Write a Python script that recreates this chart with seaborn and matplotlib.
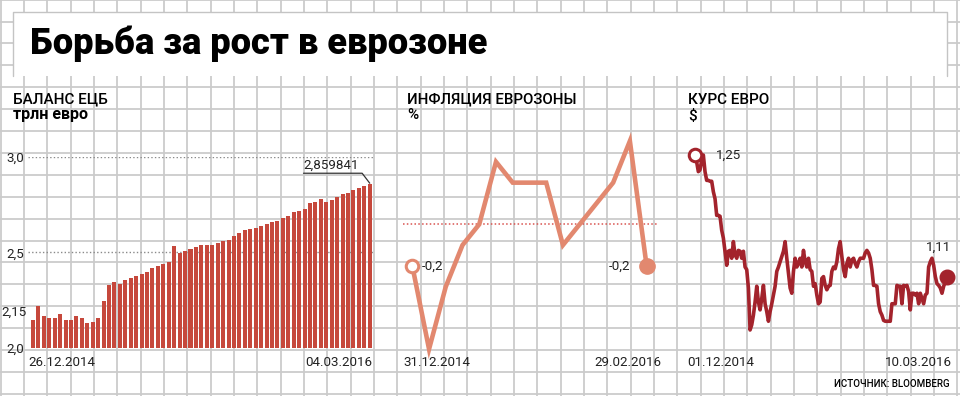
import numpy as np
import pandas as pd
import matplotlib
matplotlib.use("Agg")
import matplotlib.pyplot as plt
import seaborn as sns
from matplotlib import font_manager as fm
from matplotlib.patches import Rectangle

# ---------------- data ----------------
title = "Борьба за рост в еврозоне"
source = "ИСТОЧНИК: BLOOMBERG"

ecb_title = ["БАЛАНС ЕЦБ", "трлн евро"]
ecb_dates = ["26.12.2014", "04.03.2016"]
ecb_ticks = [2.0, 2.5, 3.0]
ecb_tick_labels = ["2,0", "2,5", "3,0"]
ecb_first_label = "2,15"
ecb_balance = [2.148, 2.218, 2.166, 2.157, 2.157, 2.178, 2.148, 2.148, 2.166, 2.157,
               2.131, 2.138, 2.157, 2.246, 2.328, 2.347, 2.337, 2.358, 2.368, 2.379,
               2.389, 2.398, 2.419, 2.428, 2.438, 2.449, 2.536, 2.497, 2.508, 2.518,
               2.530, 2.537, 2.537, 2.537, 2.549, 2.559, 2.568, 2.584, 2.603, 2.617,
               2.622, 2.629, 2.640, 2.650, 2.661, 2.666, 2.682, 2.691, 2.710, 2.717,
               2.729, 2.759, 2.767, 2.778, 2.766, 2.776, 2.792, 2.808, 2.809, 2.825,
               2.836, 2.848, 2.859841]

infl_title = ["ИНФЛЯЦИЯ ЕВРОЗОНЫ", "%"]
infl_dates = ["31.12.2014", "29.02.2016"]
inflation = [-0.2, -0.6, -0.3, -0.1, 0.0, 0.3, 0.2, 0.2, 0.2, -0.1, 0.0, 0.1, 0.2, 0.4, -0.2]

eur_title = ["КУРС ЕВРО", "$"]
eur_dates = ["01.12.2014", "10.03.2016"]
eur_usd = [1.250, 1.242, 1.231, 1.233, 1.244, 1.250, 1.231, 1.221, 1.221, 1.220,
           1.220, 1.208, 1.200, 1.181, 1.181, 1.180, 1.164, 1.155, 1.140, 1.124,
           1.140, 1.141, 1.132, 1.151, 1.136, 1.132, 1.141, 1.140, 1.132, 1.140,
           1.122, 1.119, 1.098, 1.050, 1.056, 1.067, 1.082, 1.100, 1.082, 1.073,
           1.086, 1.101, 1.080, 1.071, 1.060, 1.071, 1.080, 1.090, 1.100, 1.117,
           1.122, 1.128, 1.134, 1.140, 1.151, 1.132, 1.115, 1.098, 1.092, 1.117,
           1.132, 1.122, 1.126, 1.132, 1.122, 1.141, 1.128, 1.122, 1.132, 1.119,
           1.117, 1.100, 1.103, 1.090, 1.080, 1.082, 1.109, 1.111, 1.101, 1.096,
           1.100, 1.101, 1.117, 1.122, 1.120, 1.128, 1.143, 1.151, 1.134, 1.119,
           1.111, 1.126, 1.132, 1.122, 1.130, 1.132, 1.126, 1.122, 1.128, 1.132,
           1.132, 1.132, 1.138, 1.141, 1.138, 1.132, 1.119, 1.101, 1.101, 1.100,
           1.080, 1.071, 1.067, 1.061, 1.060, 1.060, 1.060, 1.060, 1.080, 1.080,
           1.080, 1.101, 1.100, 1.100, 1.080, 1.101, 1.100, 1.101, 1.094, 1.073,
           1.092, 1.092, 1.090, 1.092, 1.080, 1.092, 1.086, 1.080, 1.090, 1.092,
           1.122, 1.128, 1.132, 1.124, 1.111, 1.103, 1.101, 1.098, 1.092, 1.100,
           1.105, 1.111]

# ---------------- style ----------------
sns.set_theme(style="white")
fonts = fm.fontManager.ttflist
names = {f.name for f in fonts}
COND = "Liberation Sans Narrow" if "Liberation Sans Narrow" in names else "Roboto"
roboto_w = {int(f.weight) if str(f.weight).isdigit() else 400 for f in fonts if f.name == "Roboto"}
if any(w >= 850 for w in roboto_w):
    TITLE_FAM, TITLE_W = "Roboto", "black"
else:
    TITLE_FAM, TITLE_W = ("Liberation Sans" if "Liberation Sans" in names else "DejaVu Sans"), "bold"
MEDW = "medium" if any(500 <= w < 700 for w in roboto_w) else "bold"
plt.rcParams["font.family"] = [COND, "DejaVu Sans"]

W, H = 960, 396
fig = plt.figure(figsize=(W / 100, H / 100), dpi=100)
fig.patch.set_facecolor("white")

def rect(x0, y0, x1, y1):
    return [x0 / W, 1 - y1 / H, (x1 - x0) / W, (y1 - y0) / H]

def ftxt(x, y, s, **kw):
    return fig.text(x / W, 1 - y / H, s, **kw)

def fit_width(t, target):
    fig.canvas.draw()
    bb = t.get_window_extent()
    t.set_fontsize(t.get_fontsize() * target / bb.width)

TXT = "#222222"
GRID = "#cbcbcb"
LBL = 9.6

# ---------------- grid paper background ----------------
bg = fig.add_axes([0, 0, 1, 1], zorder=0)
bg.set_xlim(0, W)
bg.set_ylim(H, 0)
bg.axis("off")
gx = 0.67 + 23.33 * np.arange(0, 42)
gy = 350.0 - 21.9 * np.arange(-3, 17)
bg.vlines(gx, 0, H, color=GRID, lw=1.3)
bg.hlines(gy, 0, W, color=GRID, lw=1.3)
bg.add_patch(Rectangle((13, 12), 934, 64, facecolor="white", edgecolor="none", zorder=3))
bg.plot([13, 13, 947, 947], [76, 12, 12, 76], color="#c4c4c4", lw=1.0, zorder=4)

# title
t = ftxt(30, 54, title, fontsize=25, fontweight=TITLE_W, family=[TITLE_FAM, "DejaVu Sans"],
         color="black", va="baseline", ha="left", zorder=5)
fit_width(t, 457)

# ---------------- panel 1: ECB balance ----------------
ax1 = fig.add_axes(rect(28, 157, 373, 348), zorder=2)
ax1.patch.set_alpha(0)
dfb = pd.DataFrame({"i": np.arange(len(ecb_balance)), "v": ecb_balance})
sns.barplot(data=dfb, x="i", y="v", color="#c6483c", saturation=1, width=0.74,
            errorbar=None, ax=ax1, linewidth=0, zorder=3)
ax1.set_ylim(2.0, 3.0)
ax1.set_xlim(-0.92, len(ecb_balance) - 0.4)
for yv in [2.5, 3.0]:
    ax1.axhline(yv, color="#8a8a8a", lw=1.0, ls=(0, (1, 1.6)), zorder=1)
ax1.set_yticks(ecb_ticks)
ax1.set_yticklabels(ecb_tick_labels)
ax1.tick_params(axis="y", length=0, pad=2.5, labelsize=LBL, labelcolor=TXT)
ax1.set_xticks([])
ax1.set_xlabel("")
ax1.set_ylabel("")
for s in ax1.spines.values():
    s.set_visible(False)
ax1.annotate(ecb_first_label, xy=(0, ecb_balance[0]), xytext=(-1, 5.5),
             textcoords="offset points", ha="right", va="center",
             fontsize=LBL, color=TXT, annotation_clip=False, xycoords=("axes fraction", "data"))
# last value callout
n = len(ecb_balance)
last = ecb_balance[-1]
ax1.plot([n - 13.2, n - 2.4, n - 1], [2.915, 2.915, last + 0.003], color="#333333",
         lw=0.9, zorder=4, clip_on=False)
ax1.text(n - 13.2, 2.922, f"{last:.6f}".replace(".", ","), fontsize=LBL, color=TXT,
         ha="left", va="bottom")

t1 = ftxt(13, 103.5, ecb_title[0], fontsize=11, fontweight=MEDW, color="black", va="baseline")
fit_width(t1, 95)
t1b = ftxt(13, 119, ecb_title[1], fontsize=11.5, fontweight="bold", color="black", va="baseline")
fit_width(t1b, 75)
ftxt(28, 362, ecb_dates[0], fontsize=LBL, color=TXT, va="center", ha="left")
ftxt(372, 362, ecb_dates[1], fontsize=LBL, color=TXT, va="center", ha="right")

# ---------------- panel 2: inflation ----------------
ax2 = fig.add_axes(rect(403, 140, 657, 352), zorder=2)
ax2.patch.set_alpha(0)
dfi = pd.DataFrame({"m": np.arange(len(inflation)), "v": inflation})
SAL = "#e2886f"
ax2.axhline(0, color="#d9534f", lw=1.1, ls=(0, (1, 1.5)), zorder=1)
sns.lineplot(data=dfi, x="m", y="v", color=SAL, lw=3.3, ax=ax2, zorder=3)
for l in ax2.lines:
    l.set_clip_on(False)
    l.set_solid_joinstyle("miter")
ax2.plot([0], [inflation[0]], marker="o", ms=9, mfc="white", mec=SAL, mew=2.2,
         zorder=5, clip_on=False)
ax2.plot([len(inflation) - 1], [inflation[-1]], marker="o", ms=11, mfc=SAL, mec=SAL,
         zorder=5, clip_on=False)
ax2.set_xlim(-0.556, len(inflation) - 1 + 0.62)
ax2.set_ylim(-0.614, 0.405)
ax2.axis("off")
lab = lambda v: f"{v:.1f}".replace(".", ",")
ax2.annotate(lab(inflation[0]), xy=(0, inflation[0]), xytext=(7, 0), textcoords="offset points",
             ha="left", va="center", fontsize=LBL, color=TXT)
ax2.annotate(lab(inflation[-1]), xy=(len(inflation) - 1, inflation[-1]), xytext=(-12, 0),
             textcoords="offset points", ha="right", va="center", fontsize=LBL, color=TXT)
t2 = ftxt(407, 103.5, infl_title[0], fontsize=11, fontweight=MEDW, color="black", va="baseline")
fit_width(t2, 168)
ftxt(407, 119.5, infl_title[1], fontsize=11, fontweight=MEDW, color="black", va="baseline")
ftxt(403, 362, infl_dates[0], fontsize=LBL, color=TXT, va="center", ha="left")
ftxt(661, 362, infl_dates[1], fontsize=LBL, color=TXT, va="center", ha="right")

# ---------------- panel 3: EUR/USD ----------------
ax3 = fig.add_axes(rect(695, 155, 947, 348), zorder=2)
ax3.patch.set_alpha(0)
dates = pd.date_range("2014-12-01", "2016-03-10", periods=len(eur_usd))
dfe = pd.DataFrame({"d": dates, "v": eur_usd})
DRED = "#a3232c"
sns.lineplot(data=dfe, x="d", y="v", color=DRED, lw=2.6, ax=ax3, zorder=3)
for l in ax3.lines:
    l.set_clip_on(False)
ax3.plot([dates[0]], [eur_usd[0]], marker="o", ms=9, mfc="white", mec=DRED, mew=2.2,
         zorder=5, clip_on=False)
ax3.plot([dates[-1]], [eur_usd[-1]], marker="o", ms=10.5, mfc=DRED, mec=DRED,
         zorder=5, clip_on=False)
ax3.set_xlim(dates[0], dates[-1])
ax3.set_ylim(1.25 - 193 / 875, 1.25)
ax3.axis("off")
ax3.annotate(f"{eur_usd[0]:.2f}".replace(".", ","), xy=(dates[0], eur_usd[0]), xytext=(15, 0),
             textcoords="offset points", ha="left", va="center", fontsize=LBL, color=TXT)
ax3.annotate(f"{eur_usd[-1]:.2f}".replace(".", ","), xy=(dates[-1], eur_usd[-1]), xytext=(3, 21),
             textcoords="offset points", ha="right", va="center", fontsize=LBL, color=TXT)
t3 = ftxt(688, 103.5, eur_title[0], fontsize=11, fontweight=MEDW, color="black", va="baseline")
fit_width(t3, 81)
ftxt(688, 120, eur_title[1], fontsize=11, fontweight=MEDW, color="black", va="baseline")
ftxt(687, 362, eur_dates[0], fontsize=LBL, color=TXT, va="center", ha="left")
ftxt(952, 362, eur_dates[1], fontsize=LBL, color=TXT, va="center", ha="right")

ts = ftxt(950, 384, source, fontsize=7.5, fontweight=MEDW, color="black", va="center", ha="right")
fit_width(ts, 114)

fig.savefig("out.png", dpi=100, facecolor="white")
